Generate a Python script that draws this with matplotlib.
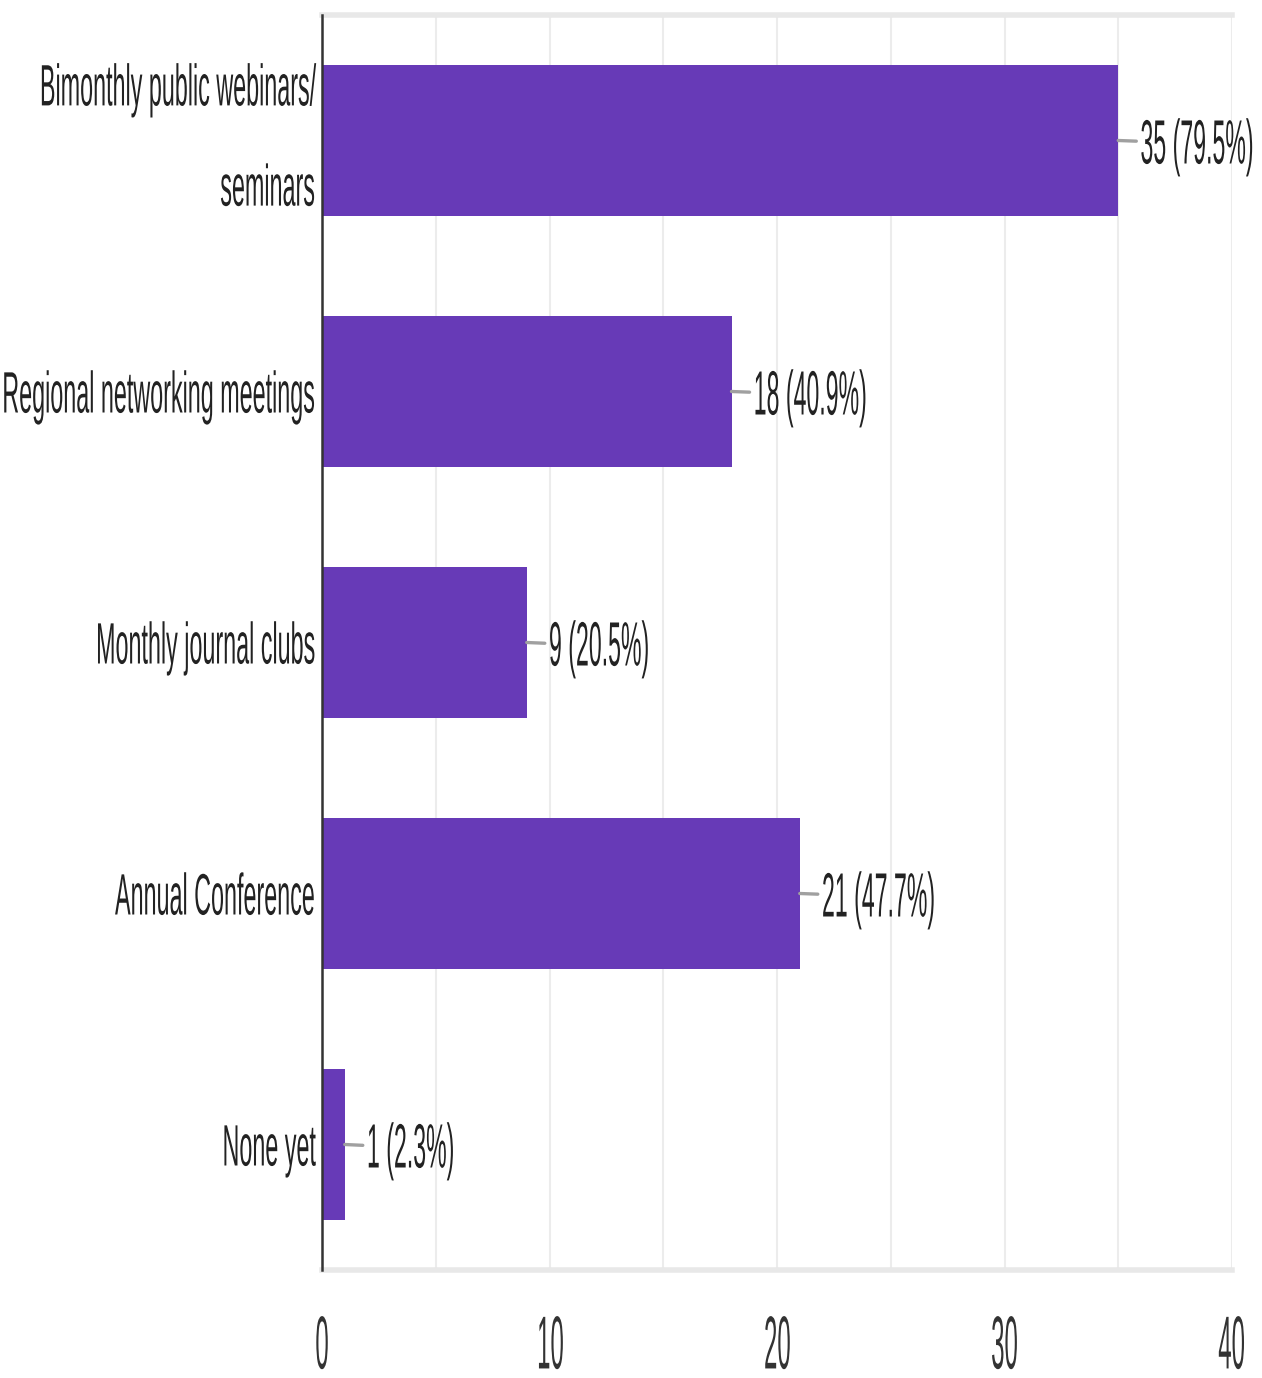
import matplotlib.pyplot as plt
from matplotlib.patheffects import AbstractPathEffect
from matplotlib.transforms import Affine2D, ScaledTranslation

plt.rcParams['font.family'] = ['Liberation Sans', 'DejaVu Sans']

categories = ['Bimonthly public webinars/\nseminars', 'Regional networking meetings',
              'Monthly journal clubs', 'Annual Conference', 'None yet']
counts = [35, 18, 9, 21, 1]
percents = [79.5, 40.9, 20.5, 47.7, 2.3]
x_ticks = [0, 10, 20, 30, 40]

BAR_COLOR = '#673ab7'
TEXT_COLOR = '#222222'


class Squeeze(AbstractPathEffect):
    """Draw text narrower than the font, keeping one side of each line in place."""

    def __init__(self, sx, anchor='left'):
        super().__init__()
        self.sx = sx
        self.anchor = anchor

    def draw_path(self, renderer, gc, tpath, affine, rgbFace=None):
        ext = tpath.get_extents()
        if self.anchor == 'right':
            x0 = ext.x1
        elif self.anchor == 'center':
            x0 = (ext.x0 + ext.x1) / 2
        else:
            x0 = 0
        squeeze = Affine2D().translate(-x0, 0).scale(self.sx, 1).translate(x0, 0)
        renderer.draw_path(gc, tpath, squeeze + affine, rgbFace)


fig = plt.figure(figsize=(12.62, 13.78), dpi=100)
ax = fig.add_axes([322 / 1262, 108 / 1378, 910 / 1262, 1255 / 1378])

y = list(range(len(categories)))
ax.barh(y, counts, height=0.6, color=BAR_COLOR, zorder=3)

for yi, c, p in zip(y, counts, percents):
    ax.annotate(f'{c} ({p}%)', xy=(c, yi), xytext=(16, 0), textcoords='offset points',
                va='center_baseline', ha='left', fontsize=45, color=TEXT_COLOR,
                path_effects=[Squeeze(0.37, 'left')],
                arrowprops=dict(arrowstyle='-', color='#a0a0a0', lw=2.4,
                                shrinkA=1, shrinkB=0))

ax.set_xlim(0, 40)
ax.set_ylim(len(categories) - 0.5, -0.5)

ax.set_yticks(y)
ax.set_yticklabels(categories, fontsize=42, color=TEXT_COLOR)
for lab in ax.get_yticklabels():
    if '\n' in lab.get_text():
        # two-line label sits a little below the bar centre
        lab.set_linespacing(2.1)
        lab.set_va('center')
        lab.set_transform(lab.get_transform()
                          + ScaledTranslation(0, -0.1, fig.dpi_scale_trans))
    lab.set_path_effects([Squeeze(0.40, 'right')])

ax.set_xticks(x_ticks)
ax.set_xticks(range(5, 40, 10), minor=True)
ax.set_xticklabels([str(t) for t in x_ticks], fontsize=54, color='#333333')
for lab in ax.get_xticklabels():
    lab.set_path_effects([Squeeze(0.32, 'center')])

ax.tick_params(axis='y', length=0, pad=4)
ax.tick_params(axis='x', which='both', length=0, pad=32)
ax.grid(axis='x', which='both', color='#ececec', lw=1.5, zorder=0)

ax.spines['right'].set_visible(False)
ax.spines['left'].set_color('#333333')
ax.spines['left'].set_linewidth(1.8)
ax.spines['left'].set_zorder(5)
for side in ('top', 'bottom'):
    ax.spines[side].set_color('#e8e8e8')
    ax.spines[side].set_linewidth(4)

fig.savefig('out.png', dpi=100)
